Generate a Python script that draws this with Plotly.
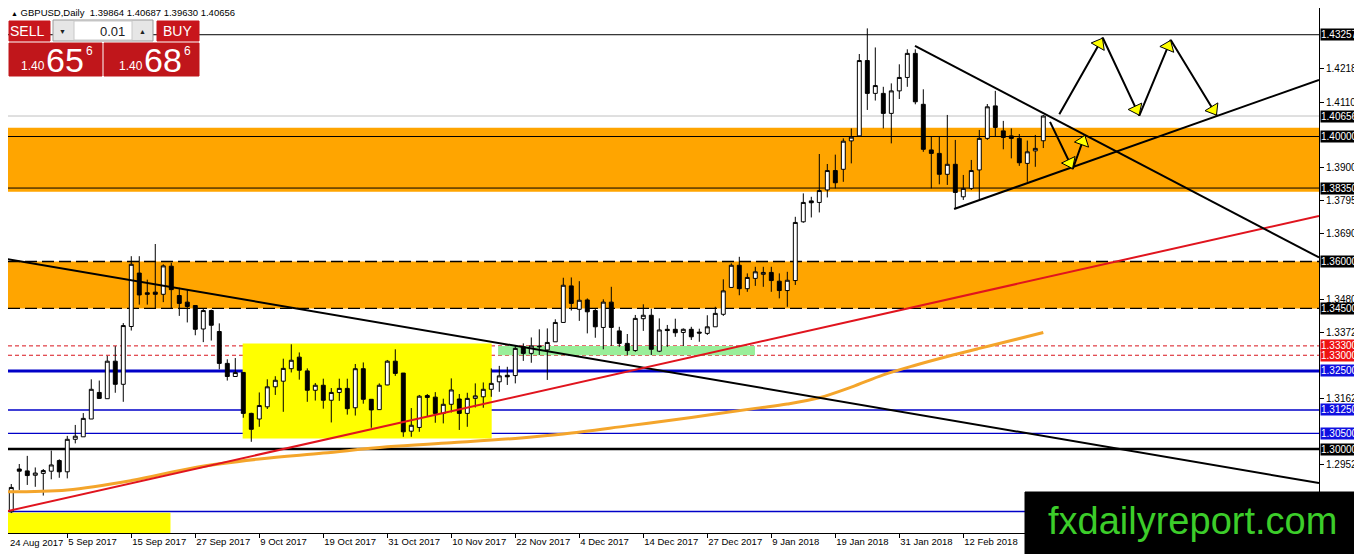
import math
import pandas as pd
import plotly.graph_objects as go

# ---- daily bars (24 Aug 2017 .. 26 Feb 2018, broker closed on 25 Dec and 1 Jan)
holidays = pd.to_datetime(["2017-12-25", "2018-01-01"])
dates = pd.bdate_range("2017-08-24", "2018-02-26")
dates = dates[~dates.isin(holidays)]

opens = [1.2805, 1.2799, 1.2936, 1.2930, 1.2916, 1.2922, 1.2929, 1.2963, 1.2927, 1.3031,
         1.3039, 1.3096, 1.3181, 1.3161, 1.3281, 1.3207, 1.3392, 1.3563, 1.3500, 1.3502,
         1.3495, 1.3585, 1.3491, 1.3470, 1.3459, 1.3384, 1.3443, 1.3376, 1.3274, 1.3232,
         1.3245, 1.3114, 1.3096, 1.3135, 1.3199, 1.3217, 1.3257, 1.3294, 1.3250, 1.3188,
         1.3204, 1.3156, 1.3181, 1.3194, 1.3132, 1.3257, 1.3159, 1.3126, 1.3205, 1.3281,
         1.3243, 1.3057, 1.3069, 1.3171, 1.3166, 1.3114, 1.3143, 1.3160, 1.3114, 1.3162,
         1.3167, 1.3191, 1.3215, 1.3236, 1.3235, 1.3327, 1.3306, 1.3327, 1.3317, 1.3343,
         1.3405, 1.3522, 1.3447, 1.3477, 1.3443, 1.3389, 1.3470, 1.3378, 1.3338, 1.3315,
         1.3417, 1.3428, 1.3313, 1.3383, 1.3383, 1.3373, 1.3383, 1.3374, 1.3370, 1.3391,
         1.3431, 1.3517, 1.3588, 1.3513, 1.3546, 1.3559, 1.3565, 1.3537, 1.3507, 1.3539,
         1.3727, 1.3794, 1.3789, 1.3829, 1.3891, 1.3895, 1.3986, 1.4002, 1.4243, 1.4138,
         1.4138, 1.4074, 1.4146, 1.4189, 1.4266, 1.4103, 1.3957, 1.3946, 1.3879, 1.3911,
         1.3807, 1.3834, 1.3893, 1.3994, 1.4098, 1.4018, 1.4002, 1.3994, 1.3914, 1.3954,
         1.39864]
highs = [1.2846, 1.2888, 1.2952, 1.2978, 1.2941, 1.2936, 1.2995, 1.2967, 1.3042, 1.3077,
         1.3115, 1.3223, 1.3219, 1.3298, 1.3329, 1.3403, 1.3617, 1.3617, 1.3542, 1.3656,
         1.3591, 1.3596, 1.3516, 1.3510, 1.3459, 1.3448, 1.3446, 1.3402, 1.3287, 1.3291,
         1.3245, 1.3116, 1.3181, 1.3223, 1.3233, 1.3289, 1.3335, 1.3309, 1.3258, 1.3211,
         1.3225, 1.3195, 1.3225, 1.3225, 1.3272, 1.3277, 1.3159, 1.3210, 1.3285, 1.3319,
         1.3243, 1.3131, 1.3173, 1.3176, 1.3182, 1.3161, 1.3226, 1.3176, 1.3180, 1.3210,
         1.3213, 1.3258, 1.3266, 1.3263, 1.3330, 1.3338, 1.3357, 1.3383, 1.3386, 1.3415,
         1.3548, 1.3549, 1.3537, 1.3482, 1.3450, 1.3479, 1.3519, 1.3391, 1.3368, 1.3429,
         1.3463, 1.3449, 1.3418, 1.3397, 1.3417, 1.3386, 1.3391, 1.3385, 1.3428, 1.3455,
         1.3543, 1.3594, 1.3615, 1.3562, 1.3583, 1.3583, 1.3583, 1.3562, 1.3567, 1.3743,
         1.3818, 1.3807, 1.3944, 1.3912, 1.3942, 1.3994, 1.4026, 1.4264, 1.4346, 1.4285,
         1.4159, 1.4170, 1.4231, 1.4279, 1.4279, 1.4151, 1.3999, 1.3999, 1.4069, 1.3989,
         1.3877, 1.3925, 1.4021, 1.4104, 1.4146, 1.4050, 1.4026, 1.4008, 1.3987, 1.4005,
         1.40687]
lows = [1.2789, 1.2795, 1.2869, 1.2885, 1.2879, 1.2851, 1.2903, 1.2908, 1.2906, 1.3018,
        1.3039, 1.3096, 1.3160, 1.3161, 1.3180, 1.3151, 1.3379, 1.3462, 1.3462, 1.3450,
        1.3470, 1.3450, 1.3426, 1.3405, 1.3364, 1.3342, 1.3347, 1.3255, 1.3219, 1.3232,
        1.3100, 1.3023, 1.3071, 1.3128, 1.3173, 1.3119, 1.3245, 1.3222, 1.3151, 1.3155,
        1.3129, 1.3085, 1.3154, 1.3110, 1.3107, 1.3145, 1.3068, 1.3125, 1.3204, 1.3234,
        1.3039, 1.3039, 1.3055, 1.3103, 1.3084, 1.3082, 1.3117, 1.3061, 1.3071, 1.3133,
        1.3132, 1.3167, 1.3183, 1.3205, 1.3210, 1.3282, 1.3276, 1.3301, 1.3221, 1.3343,
        1.3405, 1.3443, 1.3410, 1.3370, 1.3356, 1.3319, 1.3330, 1.3327, 1.3301, 1.3311,
        1.3378, 1.3301, 1.3310, 1.3327, 1.3359, 1.3330, 1.3349, 1.3343, 1.3365, 1.3391,
        1.3426, 1.3517, 1.3492, 1.3503, 1.3522, 1.3519, 1.3503, 1.3482, 1.3455, 1.3525,
        1.3724, 1.3741, 1.3757, 1.3805, 1.3834, 1.3855, 1.3914, 1.4002, 1.4085, 1.4115,
        1.4026, 1.3978, 1.4120, 1.4159, 1.4103, 1.3951, 1.3834, 1.3847, 1.3845, 1.3768,
        1.3797, 1.3829, 1.3797, 1.3989, 1.3999, 1.3959, 1.3930, 1.3906, 1.3855, 1.3903,
        1.39630]
closes = [1.2821, 1.2877, 1.2929, 1.2915, 1.2923, 1.2931, 1.2949, 1.2927, 1.3031, 1.3041,
          1.3098, 1.3191, 1.3162, 1.3281, 1.3207, 1.3395, 1.3591, 1.3493, 1.3495, 1.3495,
          1.3586, 1.3510, 1.3466, 1.3456, 1.3383, 1.3443, 1.3396, 1.3274, 1.3232, 1.3245,
          1.3114, 1.3063, 1.3139, 1.3199, 1.3220, 1.3258, 1.3284, 1.3252, 1.3188, 1.3204,
          1.3156, 1.3181, 1.3194, 1.3129, 1.3257, 1.3159, 1.3125, 1.3204, 1.3281, 1.3242,
          1.3055, 1.3076, 1.3169, 1.3165, 1.3114, 1.3143, 1.3189, 1.3114, 1.3162, 1.3170,
          1.3191, 1.3210, 1.3234, 1.3231, 1.3322, 1.3306, 1.3330, 1.3329, 1.3341, 1.3405,
          1.3524, 1.3466, 1.3476, 1.3439, 1.3391, 1.3470, 1.3389, 1.3338, 1.3315, 1.3418,
          1.3428, 1.3319, 1.3381, 1.3379, 1.3372, 1.3383, 1.3359, 1.3371, 1.3391, 1.3434,
          1.3506, 1.3588, 1.3513, 1.3549, 1.3567, 1.3565, 1.3539, 1.3507, 1.3540, 1.3725,
          1.3789, 1.3788, 1.3827, 1.3891, 1.3852, 1.3985, 1.3998, 1.4243, 1.4138, 1.4163,
          1.4074, 1.4146, 1.4189, 1.4266, 1.4111, 1.3959, 1.3946, 1.3879, 1.3911, 1.3821,
          1.3834, 1.3891, 1.3994, 1.4095, 1.4029, 1.3997, 1.3994, 1.3916, 1.3951, 1.3962,
          1.40656]

# moving average as drawn on the chart (read at sample bars)
ma_bars = [0, 8, 16, 24, 32, 40, 48, 56, 64, 70, 78, 86, 94, 98, 102, 106, 110, 114, 118, 122, 126, 130]
ma_values = [1.2863, 1.2869, 1.2899, 1.2941, 1.2968, 1.2987, 1.3007, 1.3020, 1.3034, 1.3048,
             1.3074, 1.3101, 1.3130, 1.3144, 1.3164, 1.3198, 1.3237, 1.3268, 1.3296, 1.3322,
             1.3347, 1.3373]

# horizontal levels
black_levels = [1.43257, 1.40000, 1.38350]
bold_levels = [1.30000]
dashed_levels = [1.36000, 1.34500]
red_levels = [1.33300, 1.33000]
blue_bold_levels = [1.32500]
blue_levels = [1.31250, 1.30500, 1.28000]
last_price = 1.40656

# price boxes on the right scale
black_labels = [1.43257, 1.40656, 1.40000, 1.38350, 1.36000, 1.34500, 1.30000]
red_labels = [1.33300, 1.33000]
blue_labels = [1.32500, 1.31250, 1.30500]
y_ticks = [1.42180, 1.41100, 1.39000, 1.37950, 1.36900, 1.34800, 1.33720, 1.31620, 1.29520]

# zones (bar index, price)
orange_zones = [(1.38230, 1.40280), (1.34500, 1.36000)]
yellow_box = ([29.92, 61.05], [1.3034, 1.3338])
yellow_corner = ([-0.04, 20.9], [1.2700, 1.2796])
green_box = ([61.85, 93.96], [1.3300, 1.3330])

# trend lines
black_trend = ([-0.04, 164.46], [1.3610, 1.2891])
red_trend = ([-0.04, 164.46], [1.2798, 1.3746])
upper_trend = ([113.96, 164.46], [1.4290, 1.3613])
lower_trend = ([118.85, 164.46], [1.3768, 1.4181])
big_zigzag = ([132.0, 137.43, 142.0, 145.93, 151.68], [1.4071, 1.4316, 1.4067, 1.4309, 1.4067])
small_zigzag = ([130.84, 133.68, 135.21], [1.4047, 1.3896, 1.4005])

tick_bars = list(range(0, 121, 8))
tick_labels = [f"{d.day} {d.strftime('%b %Y')}" for d in dates[tick_bars]]

bars = list(range(len(dates)))

# the page puts the figure 8px in from the top-left corner; plot area in page pixels:
OFF = 8
L, R, T, B = 8, 1319, 8, 533
XR = [0.59, 164.46]
YR = [1.27312, 1.44112]
FONT = "Liberation Sans, Arial, sans-serif"


def px(x):
    return (max(x, L) - L) / (R - L)


def py(y):
    return (B - y) / (B - T)


fig = go.Figure()

fig.add_trace(go.Scatter(x=ma_bars, y=ma_values, mode="lines",
                         line=dict(color="#f4a52b", width=3, shape="spline"),
                         hoverinfo="skip"))

fig.add_trace(go.Candlestick(x=bars, open=opens, high=highs, low=lows, close=closes,
                             increasing=dict(line=dict(color="black", width=1), fillcolor="white"),
                             decreasing=dict(line=dict(color="black", width=1), fillcolor="black"),
                             whiskerwidth=0, hoverinfo="skip"))

for (bx, by), col in [(black_trend, "black"), (red_trend, "#e0141e"),
                      (upper_trend, "black"), (lower_trend, "black"),
                      (big_zigzag, "black"), (small_zigzag, "black")]:
    fig.add_trace(go.Scatter(x=bx, y=by, mode="lines", line=dict(color=col, width=2),
                             hoverinfo="skip"))

# yellow arrow heads at the end of every zigzag leg
ppb = (R - L) / (XR[1] - XR[0])
ppp = (B - T) / (YR[1] - YR[0])
hx, hy, ha = [], [], []
for zx, zy in [big_zigzag, small_zigzag]:
    for i in range(1, len(zx)):
        dx = (zx[i] - zx[i - 1]) * ppb
        dy = (zy[i] - zy[i - 1]) * ppp
        n = math.hypot(dx, dy)
        hx.append(zx[i] - dx / n * 7 / ppb)
        hy.append(zy[i] - dy / n * 7 / ppp)
        ha.append(math.degrees(math.atan2(dx, dy)))
fig.add_trace(go.Scatter(x=hx, y=hy, mode="markers", cliponaxis=False, hoverinfo="skip",
                         marker=dict(symbol="triangle-up", size=13, angle=ha, color="#ffff00",
                                     line=dict(color="black", width=1))))

shapes = []
for lo, hi in orange_zones:
    shapes.append(dict(type="rect", xref="paper", x0=0, x1=1, yref="y", y0=lo, y1=hi,
                       fillcolor="#ffa500", line=dict(width=0), layer="below"))
for (bx, by), col in [(yellow_box, "#ffff00"), (yellow_corner, "#ffff00"), (green_box, "#99ee99")]:
    shapes.append(dict(type="rect", xref="x", x0=max(bx[0], XR[0]), x1=bx[1], yref="y",
                       y0=by[0], y1=by[1], fillcolor=col, line=dict(width=0), layer="below"))


def hline(p, color, width, dash="solid"):
    return dict(type="line", xref="paper", x0=0, x1=1, yref="y", y0=p, y1=p,
                line=dict(color=color, width=width, dash=dash), layer="below")


shapes.append(hline(last_price, "#c0c0c0", 1))
shapes += [hline(p, "black", 1) for p in black_levels]
shapes += [hline(p, "black", 2.5) for p in bold_levels]
shapes += [hline(p, "black", 1.3, "12px,5px") for p in dashed_levels]
shapes += [hline(p, "#d8141c", 1, "4px,3px") for p in red_levels]
shapes += [hline(p, "#0000c8", 3) for p in blue_bold_levels]
shapes += [hline(p, "#0000c8", 1.4) for p in blue_levels]


def box(x0, y0, x1, y1, fill, line=None):
    return dict(type="rect", xref="paper", yref="paper", x0=px(x0), x1=px(x1), y0=py(y1), y1=py(y0),
                fillcolor=fill, line=dict(color=line or fill, width=1), layer="above")


# one-click trading panel
shapes += [box(9, 21, 50, 41, "#c8161c"), box(53, 20, 153, 41, "#e6e6e6", "#9a9a9a"),
           box(74, 21, 132, 40, "white", "#c8c8c8"), box(157, 21, 199, 41, "#c8161c"),
           box(9, 43, 102, 76, "#c0161b"), box(104, 43, 199, 76, "#c0161b")]
# watermark
shapes.append(box(1025, 492, 1362, 554, "black"))

ann = []


def text(x, y, s, size, color="white", anchor="center"):
    ann.append(dict(xref="paper", yref="paper", x=px(x), y=py(y), text=s, showarrow=False,
                    xanchor=anchor, yanchor="middle", font=dict(family=FONT, size=size, color=color)))


text(9, 13, "<span style='font-size:7px'>▲</span> GBPUSD,Daily  1.39864 1.40687 1.39630 1.40656",
     9.5, "black", anchor="left")
text(27, 31, "SELL", 14)
text(177, 31, "BUY", 14)
text(63, 31, "▼", 7, "#202020")
text(142, 31, "▲", 7, "#202020")
text(127, 31, "0.01", 13, "#202020", anchor="right")
for cx, big in [(0, "65"), (98, "68")]:
    text(33 + cx, 66, "1.40", 12)
    text(65 + cx, 60, big, 34)
    text(89 + cx, 51, "6", 12)
text(1192, 521, "fxdailyreport.com", 38, "#3ccd2a")
# first date label sits at the very left edge, just outside the axis range
ann.append(dict(xref="paper", yref="paper", x=0, y=0, yshift=-2, text=tick_labels[0], showarrow=False,
                xanchor="left", yanchor="top", font=dict(family=FONT, size=9.5, color="black")))

for labels, col in [(black_labels, "black"), (red_labels, "#ee1111"), (blue_labels, "#1010e0")]:
    for p in labels:
        ann.append(dict(xref="paper", yref="y", x=1, y=p, text=f"{p:.5f}", showarrow=False,
                        xanchor="left", yanchor="middle", xshift=1, bgcolor=col, borderpad=0,
                        height=11, width=40, align="left",
                        font=dict(family=FONT, size=10, color="white")))

fig.update_layout(
    width=1362 - OFF, height=554 - OFF,
    margin=dict(l=L - OFF, r=1362 - R, t=T - OFF, b=554 - B),
    paper_bgcolor="white", plot_bgcolor="white", showlegend=False, hovermode=False,
    shapes=shapes, annotations=ann,
    xaxis=dict(range=XR, tickvals=tick_bars, ticktext=tick_labels, ticks="outside", ticklen=4,
               tickcolor="black", ticklabelposition="outside right", showline=True, linecolor="black",
               showgrid=False, zeroline=False, rangeslider=dict(visible=False), automargin=False,
               tickfont=dict(family=FONT, size=9.5, color="black")),
    yaxis=dict(side="right", range=YR, tickvals=y_ticks, ticktext=[f"{v:.5f}" for v in y_ticks],
               ticks="outside", ticklen=4, tickcolor="black", showline=True, mirror=True,
               linecolor="black", showgrid=False, zeroline=False, automargin=False,
               tickfont=dict(family=FONT, size=10, color="black")),
)

fig.write_html("out.html")
